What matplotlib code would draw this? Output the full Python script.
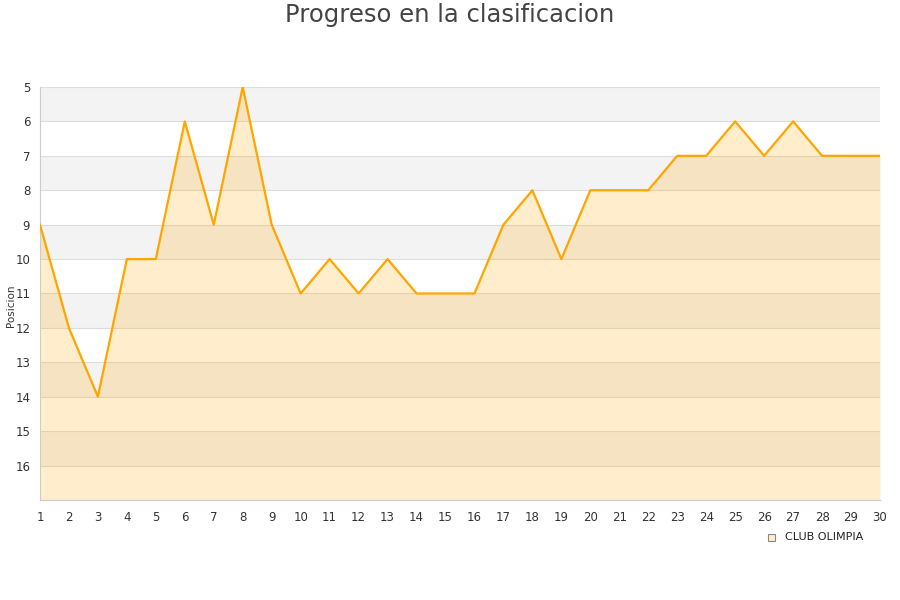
import matplotlib
matplotlib.use("Agg")
import matplotlib.pyplot as plt
from matplotlib.patches import Rectangle

jornadas = list(range(1, 31))
posiciones = [9, 12, 14, 10, 10, 6, 9, 5, 9, 11, 10, 11, 10, 11, 11, 11, 9, 8, 10, 8,
              8, 8, 7, 7, 6, 7, 6, 7, 7, 7]
equipo = "CLUB OLIMPIA"
y_ticks = list(range(5, 17))

fig = plt.figure(figsize=(9, 6), dpi=100)
ax = fig.add_axes([0.0444, 0.1667, 0.9334, 0.6883])

# bandas alternas
for y in range(5, 17):
    color = "#f3f3f3" if (y - 5) % 2 == 0 else "white"
    ax.axhspan(y, y + 1, color=color, zorder=0, lw=0)
for y in y_ticks:
    ax.axhline(y, color="#dddddd", lw=0.8, zorder=1)

ax.fill_between(jornadas, posiciones, 17, color="#FFA500", alpha=0.2, lw=0, zorder=2)
ax.plot(jornadas, posiciones, color="#FFA500", lw=1.6, zorder=3)

ax.set_xlim(1, 30)
ax.set_ylim(17, 5)
ax.set_xticks(jornadas)
ax.set_yticks(y_ticks)
ax.tick_params(axis="both", length=0, labelsize=8.5, colors="#333333")
ax.tick_params(axis="x", pad=8)
ax.tick_params(axis="y", pad=7)
for s in ["top", "right"]:
    ax.spines[s].set_visible(False)
for s in ["left", "bottom"]:
    ax.spines[s].set_color("#cccccc")

fig.text(0.012, 0.49, "Posicion", fontsize=7.5, color="#333333", rotation=90,
         ha="center", va="center")
fig.suptitle("Progreso en la clasificacion", fontsize=17.5, color="#444444", y=0.995)

fig.patches.append(Rectangle((0.853, 0.098), 0.0085, 0.0125, transform=fig.transFigure,
                             facecolor="#FFEDCC", edgecolor="#888888", lw=0.8))
fig.text(0.872, 0.105, equipo, fontsize=8, color="#222222", va="center")

fig.savefig("out.png", dpi=100)
